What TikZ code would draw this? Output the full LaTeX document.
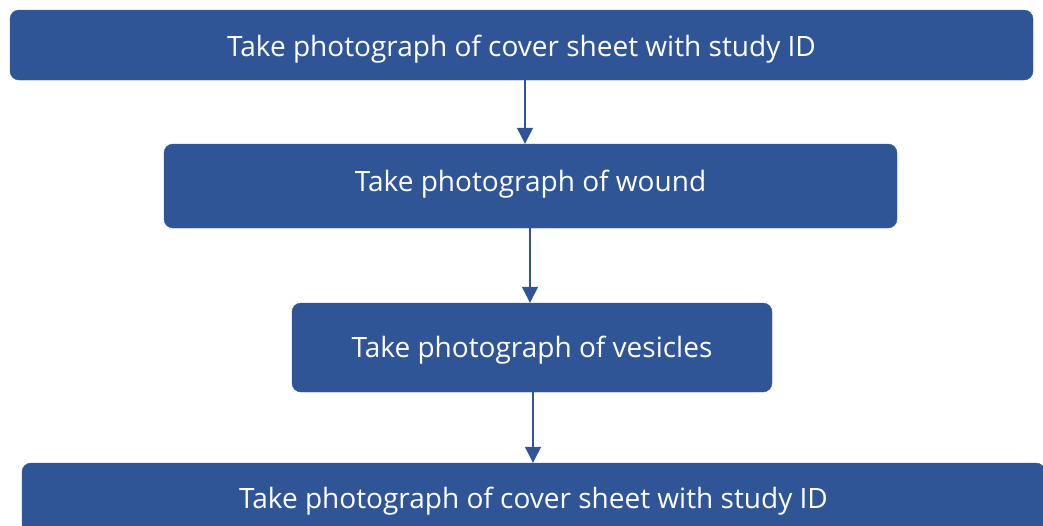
\documentclass[tikz,border=0pt]{standalone}
\usepackage{fontspec}
\setmainfont{Open Sans}
\usepackage{xcolor}
\usetikzlibrary{positioning, arrows.meta}
\definecolor{stepblue}{HTML}{2F5597}

\begin{document}
\begin{tikzpicture}[x=1pt, y=1pt,
    box/.style={draw=stepblue, fill=stepblue, rounded corners=9pt, text=white,
        font=\fontsize{28}{33}\selectfont, inner sep=0pt, text height=20pt, text depth=0pt},
    arr/.style={-{Triangle[width=16pt, length=16pt]}, stepblue, line width=1.3pt}]

    % page frame
    \useasboundingbox (0,0) rectangle (1043,-525);

    % Steps
    \node[box, minimum width=1023pt, minimum height=70pt, text height=23pt] (cover) at (521.5,-45) {Take photograph of cover sheet with study ID};
    \node[box, minimum width=733pt, minimum height=84pt, text depth=10pt] (wound) at (530.5,-186) {Take photograph of wound};
    \node[box, minimum width=480pt, minimum height=89pt] (vesicles) at (532,-347.5) {Take photograph of vesicles};
    \node[box, minimum width=1023pt, minimum height=70pt] (coverend) at (533.5,-498) {Take photograph of cover sheet with study ID};

    % Arrows
    \draw[arr] ([xshift=3.5pt]cover.south) -- ([xshift=-5.5pt]wound.north);
    \draw[arr] ([xshift=-0.5pt]wound.south) -- ([xshift=-2pt]vesicles.north);
    \draw[arr] ([xshift=1pt]vesicles.south) -- ([xshift=-0.5pt]coverend.north);

\end{tikzpicture}
\end{document}
